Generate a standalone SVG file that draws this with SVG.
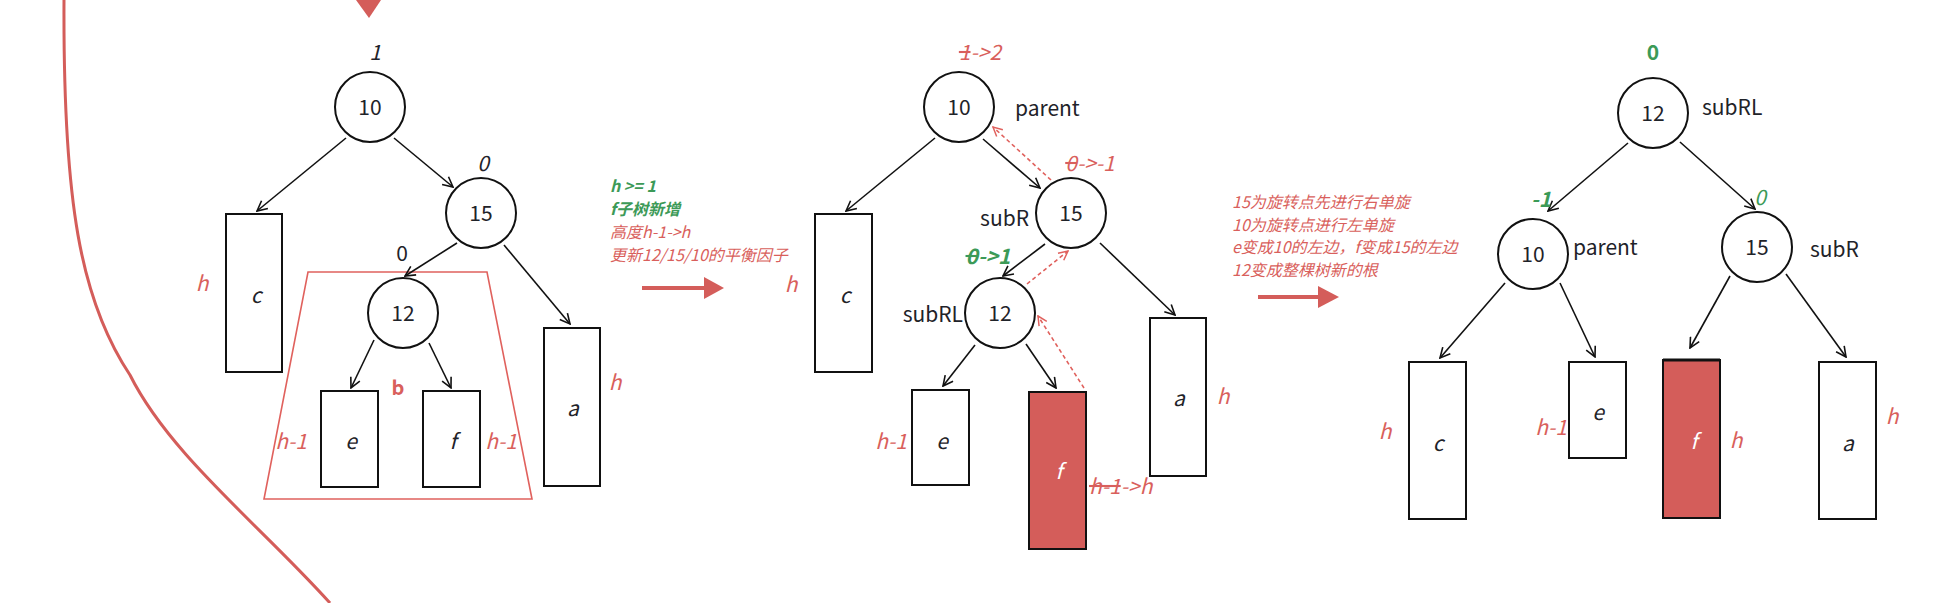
<svg xmlns="http://www.w3.org/2000/svg" width="1960" height="603" viewBox="0 0 1960 603">
<style>
text{font-family:"Noto Sans CJK SC","Noto Sans",sans-serif;}
.bg{fill:#ffffff;}
.node circle{fill:#ffffff;stroke:#111111;stroke-width:2;}
.num{font-size:21px;fill:#1f2329;text-anchor:middle;}
.lbl{font-size:21px;fill:#1f2329;}
.box{fill:#ffffff;stroke:#111111;stroke-width:2;}
.boxr{fill:#d45d5a;stroke:#111111;stroke-width:2;}
.it{font-size:21px;font-style:italic;fill:#1f2329;text-anchor:middle;}
.itw{font-size:21px;font-style:italic;fill:#ffffff;text-anchor:middle;}
.rh{font-size:21px;font-style:italic;fill:#d95f5c;}
.gr{font-size:21px;fill:#3c9a57;}
.note{font-size:16px;font-style:italic;fill:#d95f5c;}
.noteg{font-size:16px;font-style:italic;font-weight:bold;fill:#3c9a57;}
.strike{text-decoration:line-through;}
.edge{stroke:#111111;stroke-width:1.6;fill:none;marker-end:url(#ah);}
.dash{stroke:#e0615d;stroke-width:1.6;fill:none;stroke-dasharray:4 3;marker-end:url(#ahr);}
</style>
<defs>
<marker id="ah" viewBox="0 0 12 12" refX="11" refY="6" markerWidth="12" markerHeight="12" markerUnits="userSpaceOnUse" orient="auto">
<path d="M1,1 L11,6 L1,11" fill="none" stroke="#111111" stroke-width="1.6"/>
</marker>
<marker id="ahr" viewBox="0 0 12 12" refX="11" refY="6" markerWidth="11" markerHeight="11" markerUnits="userSpaceOnUse" orient="auto">
<path d="M1,1 L11,6 L1,11" fill="none" stroke="#e0615d" stroke-width="1.6"/>
</marker>
</defs>
<rect class="bg" x="0" y="0" width="1960" height="603"/>

<!-- decorations -->
<g id="decor">
<path d="M64,0 C63,200 80,300 130,375 C170,455 260,525 330,603" fill="none" stroke="#d45d5a" stroke-width="3"/>
<polygon points="356,0 381,0 369,18" fill="#d45d5a"/>
<polygon points="264,499 532,499 487,272 308,272" fill="none" stroke="#e0615d" stroke-width="1.6"/>
<text x="398" y="395" style="font-size:20px;font-weight:bold;fill:#d95f5c;text-anchor:middle;">b</text>
</g>

<!-- connectors -->
<g id="connectors">
<line class="edge" x1="346" y1="138" x2="257" y2="211"/>
<line class="edge" x1="394" y1="138" x2="453" y2="187"/>
<line class="edge" x1="457" y1="243" x2="405" y2="276"/>
<line class="edge" x1="504" y1="245" x2="570" y2="324"/>
<line class="edge" x1="374" y1="340" x2="351" y2="388"/>
<line class="edge" x1="429" y1="343" x2="451" y2="388"/>

<line class="edge" x1="935" y1="138" x2="846" y2="211"/>
<line class="edge" x1="983" y1="139" x2="1040" y2="188"/>
<line class="edge" x1="1045" y1="244" x2="1003" y2="276"/>
<line class="edge" x1="1100" y1="243" x2="1175" y2="315"/>
<line class="edge" x1="975" y1="345" x2="943" y2="386"/>
<line class="edge" x1="1026" y1="344" x2="1056" y2="388"/>
<line class="dash" x1="1051" y1="180" x2="993" y2="127"/>
<line class="dash" x1="1027" y1="284" x2="1068" y2="251"/>
<line class="dash" x1="1084" y1="388" x2="1038" y2="316"/>

<line class="edge" x1="1628" y1="143" x2="1548" y2="211"/>
<line class="edge" x1="1680" y1="142" x2="1755" y2="209"/>
<line class="edge" x1="1505" y1="283" x2="1440" y2="358"/>
<line class="edge" x1="1560" y1="283" x2="1595" y2="357"/>
<line class="edge" x1="1730" y1="276" x2="1690" y2="348"/>
<line class="edge" x1="1786" y1="274" x2="1846" y2="357"/>

<line x1="642" y1="288" x2="706" y2="288" stroke="#d45d5a" stroke-width="4"/>
<polygon points="704,277 724,288 704,299" fill="#d45d5a"/>
<line x1="1258" y1="297" x2="1320" y2="297" stroke="#d45d5a" stroke-width="4"/>
<polygon points="1318,286 1339,297 1318,308" fill="#d45d5a"/>
</g>

<!-- Panel 1 -->
<g id="p1-n10" class="node"><circle cx="370" cy="107" r="35"/><text class="num" x="370" y="115">10</text>
<text class="it" x="375" y="60">1</text></g>
<g id="p1-n15" class="node"><circle cx="481" cy="213" r="35"/><text class="num" x="481" y="221">15</text>
<text class="it" x="483" y="171">0</text></g>
<g id="p1-n12" class="node"><circle cx="403" cy="313" r="35"/><text class="num" x="403" y="321">12</text>
<text class="num" x="402" y="261">0</text></g>
<g id="p1-c"><rect class="box" x="226" y="214" width="56" height="158"/><text class="it" x="256" y="303">c</text>
<text class="rh" x="202" y="291" text-anchor="middle">h</text></g>
<g id="p1-e"><rect class="box" x="321" y="391" width="57" height="96"/><text class="it" x="351" y="449">e</text>
<text class="rh" x="291" y="449" text-anchor="middle">h-1</text></g>
<g id="p1-f"><rect class="box" x="423" y="391" width="57" height="96"/><text class="it" x="453" y="449">f</text>
<text class="rh" x="501" y="449" text-anchor="middle">h-1</text></g>
<g id="p1-a"><rect class="box" x="544" y="328" width="56" height="158"/><text class="it" x="573" y="416">a</text>
<text class="rh" x="615" y="390" text-anchor="middle">h</text></g>

<!-- Panel 2 notes -->
<g id="note1">
<text class="noteg" x="610" y="192">h &gt;= 1</text>
<text class="noteg" x="610" y="215">f子树新增</text>
<text class="note" x="610" y="238">高度h-1-&gt;h</text>
<text class="note" x="610" y="261">更新12/15/10的平衡因子</text>
</g>

<!-- Panel 2 -->
<g id="p2-n10" class="node"><circle cx="959" cy="107" r="35"/><text class="num" x="959" y="115">10</text>
<text class="lbl" x="1015" y="116">parent</text>
<text class="rh" x="980" y="60" text-anchor="middle"><tspan class="strike">1</tspan>-&gt;2</text></g>
<g id="p2-n15" class="node"><circle cx="1071" cy="213" r="35"/><text class="num" x="1071" y="221">15</text>
<text class="lbl" x="1029" y="226" text-anchor="end">subR</text>
<text class="rh" x="1090" y="171" text-anchor="middle"><tspan class="strike">0</tspan>-&gt;-1</text></g>
<g id="p2-n12" class="node"><circle cx="1000" cy="313" r="35"/><text class="num" x="1000" y="321">12</text>
<text class="lbl" x="963" y="322" text-anchor="end">subRL</text>
<text class="rh" x="988" y="264" text-anchor="middle" style="fill:#3c9a57;font-weight:bold;"><tspan class="strike">0</tspan>-&gt;1</text></g>
<g id="p2-c"><rect class="box" x="815" y="214" width="57" height="158"/><text class="it" x="845" y="303">c</text>
<text class="rh" x="791" y="292" text-anchor="middle">h</text></g>
<g id="p2-e"><rect class="box" x="912" y="390" width="57" height="95"/><text class="it" x="942" y="449">e</text>
<text class="rh" x="891" y="449" text-anchor="middle">h-1</text></g>
<g id="p2-f"><rect class="boxr" x="1029" y="392" width="57" height="157"/><text class="itw" x="1059" y="479">f</text>
<text class="rh" x="1089" y="494"><tspan class="strike">h-1</tspan>-&gt;h</text></g>
<g id="p2-a"><rect class="box" x="1150" y="318" width="56" height="158"/><text class="it" x="1179" y="406">a</text>
<text class="rh" x="1223" y="404" text-anchor="middle">h</text></g>

<!-- Panel 3 notes -->
<g id="note2">
<text class="note" x="1232" y="208">15为旋转点先进行右单旋</text>
<text class="note" x="1232" y="231">10为旋转点进行左单旋</text>
<text class="note" x="1232" y="253">e变成10的左边，f变成15的左边</text>
<text class="note" x="1232" y="276">12变成整棵树新的根</text>
</g>

<!-- Panel 3 -->
<g id="p3-n12" class="node"><circle cx="1653" cy="113" r="35"/><text class="num" x="1653" y="121">12</text>
<text class="lbl" x="1702" y="115">subRL</text>
<text class="gr" x="1653" y="60" text-anchor="middle" font-weight="bold">0</text></g>
<g id="p3-n10" class="node"><circle cx="1533" cy="254" r="35"/><text class="num" x="1533" y="262">10</text>
<text class="lbl" x="1573" y="255">parent</text>
<text class="gr" x="1541" y="207" text-anchor="middle" font-style="italic" font-weight="bold">-1</text></g>
<g id="p3-n15" class="node"><circle cx="1757" cy="247" r="35"/><text class="num" x="1757" y="255">15</text>
<text class="lbl" x="1810" y="257">subR</text>
<text class="gr" x="1760" y="205" text-anchor="middle" font-style="italic">0</text></g>
<g id="p3-c"><rect class="box" x="1409" y="362" width="57" height="157"/><text class="it" x="1438" y="451">c</text>
<text class="rh" x="1385" y="439" text-anchor="middle">h</text></g>
<g id="p3-e"><rect class="box" x="1569" y="362" width="57" height="96"/><text class="it" x="1598" y="420">e</text>
<text class="rh" x="1551" y="435" text-anchor="middle">h-1</text></g>
<g id="p3-f"><rect class="boxr" x="1663" y="360" width="57" height="158"/><line x1="1663" y1="360" x2="1720" y2="360" stroke="#111111" stroke-width="3"/><text class="itw" x="1694" y="449">f</text>
<text class="rh" x="1736" y="448" text-anchor="middle">h</text></g>
<g id="p3-a"><rect class="box" x="1819" y="362" width="57" height="157"/><text class="it" x="1848" y="451">a</text>
<text class="rh" x="1892" y="424" text-anchor="middle">h</text></g>
</svg>
